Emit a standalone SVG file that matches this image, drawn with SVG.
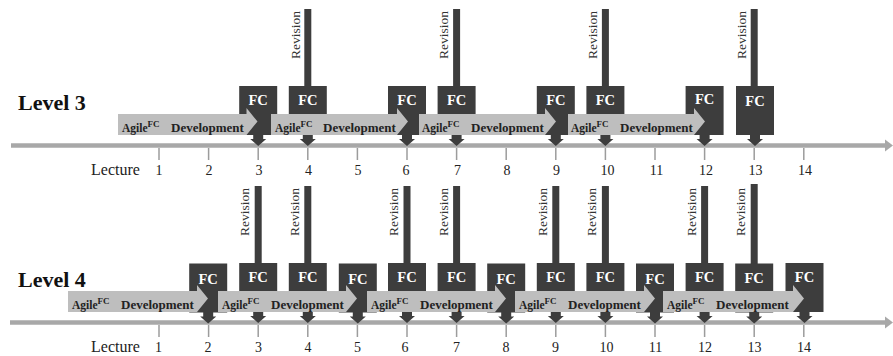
<svg xmlns="http://www.w3.org/2000/svg" width="893" height="356" viewBox="0 0 893 356">
<style>
.bg{fill:#ffffff}
.tl{stroke:#a8a8a8;stroke-width:4.5;fill:none}
.tlh{fill:#a8a8a8}
.tick{stroke:#9c9c9c;stroke-width:1.5}
.dark{fill:#3d3d3d}
.phase{fill:#bebebe}
.lvl{font-family:"Liberation Serif","Times New Roman",serif;font-weight:bold;font-size:22px;fill:#111}
.lec{font-family:"Liberation Serif","Times New Roman",serif;font-size:16px;fill:#222}
.num{font-family:"Liberation Serif","Times New Roman",serif;font-size:14px;fill:#222;text-anchor:middle}
.fct{font-family:"Liberation Serif","Times New Roman",serif;font-weight:bold;font-size:14.5px;fill:#ffffff;text-anchor:middle}
.rev{font-family:"Liberation Serif","Times New Roman",serif;font-size:13.5px;fill:#333}
.ph{font-family:"Liberation Serif","Times New Roman",serif;font-weight:bold;font-size:13px;fill:#222}
.ag{font-size:11.5px}
.sup{font-size:9px}
</style>
<defs>
<path id="fc" d="M-19,0 H19 V49 H5 V53 H8 L0,60 L-8,53 H-5 V49 H-19 Z"/>
</defs>
<rect class="bg" x="0" y="0" width="893" height="356"/>

<g id="connectors">
<line class="tl" x1="11" y1="145.5" x2="887" y2="145.5"/>
<polygon class="tlh" points="885,139.5 893,145.5 885,151.5"/>
<line class="tl" x1="10" y1="322.5" x2="887" y2="322.5"/>
<polygon class="tlh" points="885,316.5 893,322.5 885,328.5"/>
</g>

<g id="ticks-level3">
<line class="tick" x1="159" y1="148" x2="159" y2="160"/>
<line class="tick" x1="208.6" y1="148" x2="208.6" y2="160"/>
<line class="tick" x1="258.2" y1="148" x2="258.2" y2="160"/>
<line class="tick" x1="307.8" y1="148" x2="307.8" y2="160"/>
<line class="tick" x1="357.4" y1="148" x2="357.4" y2="160"/>
<line class="tick" x1="407" y1="148" x2="407" y2="160"/>
<line class="tick" x1="456.6" y1="148" x2="456.6" y2="160"/>
<line class="tick" x1="506.2" y1="148" x2="506.2" y2="160"/>
<line class="tick" x1="555.8" y1="148" x2="555.8" y2="160"/>
<line class="tick" x1="605.4" y1="148" x2="605.4" y2="160"/>
<line class="tick" x1="655" y1="148" x2="655" y2="160"/>
<line class="tick" x1="704.6" y1="148" x2="704.6" y2="160"/>
<line class="tick" x1="754.2" y1="148" x2="754.2" y2="160"/>
<line class="tick" x1="803.8" y1="148" x2="803.8" y2="160"/>
</g>
<g id="ticks-level4">
<line class="tick" x1="159" y1="325" x2="159" y2="337"/>
<line class="tick" x1="208.6" y1="325" x2="208.6" y2="337"/>
<line class="tick" x1="258.2" y1="325" x2="258.2" y2="337"/>
<line class="tick" x1="307.8" y1="325" x2="307.8" y2="337"/>
<line class="tick" x1="357.4" y1="325" x2="357.4" y2="337"/>
<line class="tick" x1="407" y1="325" x2="407" y2="337"/>
<line class="tick" x1="456.6" y1="325" x2="456.6" y2="337"/>
<line class="tick" x1="506.2" y1="325" x2="506.2" y2="337"/>
<line class="tick" x1="555.8" y1="325" x2="555.8" y2="337"/>
<line class="tick" x1="605.4" y1="325" x2="605.4" y2="337"/>
<line class="tick" x1="655" y1="325" x2="655" y2="337"/>
<line class="tick" x1="704.6" y1="325" x2="704.6" y2="337"/>
<line class="tick" x1="754.2" y1="325" x2="754.2" y2="337"/>
<line class="tick" x1="803.8" y1="325" x2="803.8" y2="337"/>
</g>

<g id="labels-level3">
<text class="lvl" x="18" y="110">Level 3</text>
<text class="lec" x="91" y="175">Lecture</text>
<text class="num" x="159" y="175">1</text>
<text class="num" x="209" y="175">2</text>
<text class="num" x="259" y="175">3</text>
<text class="num" x="308.5" y="175">4</text>
<text class="num" x="358" y="175">5</text>
<text class="num" x="406" y="175">6</text>
<text class="num" x="457.5" y="175">7</text>
<text class="num" x="507" y="175">8</text>
<text class="num" x="556.5" y="175">9</text>
<text class="num" x="607.5" y="175">10</text>
<text class="num" x="656.5" y="175">11</text>
<text class="num" x="706" y="175">12</text>
<text class="num" x="755.5" y="175">13</text>
<text class="num" x="805" y="175">14</text>
</g>
<g id="labels-level4">
<text class="lvl" x="18" y="287">Level 4</text>
<text class="lec" x="91" y="352">Lecture</text>
<text class="num" x="158.5" y="352">1</text>
<text class="num" x="208" y="352">2</text>
<text class="num" x="258.5" y="352">3</text>
<text class="num" x="308" y="352">4</text>
<text class="num" x="357.5" y="352">5</text>
<text class="num" x="405" y="352">6</text>
<text class="num" x="456.5" y="352">7</text>
<text class="num" x="506" y="352">8</text>
<text class="num" x="555.5" y="352">9</text>
<text class="num" x="606.5" y="352">10</text>
<text class="num" x="655.5" y="352">11</text>
<text class="num" x="705" y="352">12</text>
<text class="num" x="754.5" y="352">13</text>
<text class="num" x="804" y="352">14</text>
</g>

<g id="l3-fc3"><use href="#fc" class="dark" x="258.2" y="86"/><text class="fct" x="258.2" y="105">FC</text></g>
<g id="l3-fc4"><rect class="dark" x="304.3" y="9" width="7" height="78"/><text class="rev" transform="translate(299.5,59) rotate(-90)">Revision</text><use href="#fc" class="dark" x="307.8" y="86"/><text class="fct" x="307.8" y="105">FC</text></g>
<g id="l3-fc6"><use href="#fc" class="dark" x="407" y="86"/><text class="fct" x="407" y="105">FC</text></g>
<g id="l3-fc7"><rect class="dark" x="453.1" y="9" width="7" height="78"/><text class="rev" transform="translate(448.3,59) rotate(-90)">Revision</text><use href="#fc" class="dark" x="456.6" y="86"/><text class="fct" x="456.6" y="105">FC</text></g>
<g id="l3-fc9"><use href="#fc" class="dark" x="555.8" y="86"/><text class="fct" x="555.8" y="105">FC</text></g>
<g id="l3-fc10"><rect class="dark" x="601.9" y="9" width="7" height="78"/><text class="rev" transform="translate(597.1,59) rotate(-90)">Revision</text><use href="#fc" class="dark" x="605.4" y="86"/><text class="fct" x="605.4" y="105">FC</text></g>
<g id="l3-fc12"><use href="#fc" class="dark" x="704.6" y="86"/><text class="fct" x="704.6" y="104">FC</text></g>
<g id="l3-fc13"><rect class="dark" x="750.7" y="9" width="7" height="78"/><text class="rev" transform="translate(745.9,59) rotate(-90)">Revision</text><use href="#fc" class="dark" x="755" y="86"/><text class="fct" x="755" y="105.5">FC</text></g>

<g id="l4-fc2"><use href="#fc" class="dark" x="208.2" y="263.5"/><text class="fct" x="208.2" y="283.5">FC</text></g>
<g id="l4-fc3"><rect class="dark" x="254.7" y="186" width="7" height="78"/><text class="rev" transform="translate(248.5,236) rotate(-90)">Revision</text><use href="#fc" class="dark" x="258.2" y="263"/><text class="fct" x="258.2" y="282">FC</text></g>
<g id="l4-fc4"><rect class="dark" x="304.3" y="186" width="7" height="78"/><text class="rev" transform="translate(298.5,236) rotate(-90)">Revision</text><use href="#fc" class="dark" x="307.8" y="263"/><text class="fct" x="307.8" y="282">FC</text></g>
<g id="l4-fc5"><use href="#fc" class="dark" x="357.8" y="263.5"/><text class="fct" x="357.8" y="283.5">FC</text></g>
<g id="l4-fc6"><rect class="dark" x="403.5" y="186" width="7" height="78"/><text class="rev" transform="translate(397.5,236) rotate(-90)">Revision</text><use href="#fc" class="dark" x="407" y="263"/><text class="fct" x="407" y="282">FC</text></g>
<g id="l4-fc7"><rect class="dark" x="453.1" y="186" width="7" height="78"/><text class="rev" transform="translate(447.5,236) rotate(-90)">Revision</text><use href="#fc" class="dark" x="456.6" y="263"/><text class="fct" x="456.6" y="282">FC</text></g>
<g id="l4-fc8"><use href="#fc" class="dark" x="506.2" y="263.5"/><text class="fct" x="506.2" y="283.5">FC</text></g>
<g id="l4-fc9"><rect class="dark" x="552.3" y="186" width="7" height="78"/><text class="rev" transform="translate(546.5,236) rotate(-90)">Revision</text><use href="#fc" class="dark" x="555.8" y="263"/><text class="fct" x="555.8" y="282">FC</text></g>
<g id="l4-fc10"><rect class="dark" x="601.9" y="186" width="7" height="78"/><text class="rev" transform="translate(596,236) rotate(-90)">Revision</text><use href="#fc" class="dark" x="605.4" y="263"/><text class="fct" x="605.4" y="282">FC</text></g>
<g id="l4-fc11"><use href="#fc" class="dark" x="655" y="263.5"/><text class="fct" x="655" y="283.5">FC</text></g>
<g id="l4-fc12"><rect class="dark" x="701.1" y="186" width="7" height="78"/><text class="rev" transform="translate(695.5,236) rotate(-90)">Revision</text><use href="#fc" class="dark" x="704.6" y="263"/><text class="fct" x="704.6" y="282">FC</text></g>
<g id="l4-fc13"><rect class="dark" x="750.7" y="184" width="7" height="80"/><text class="rev" transform="translate(745,236) rotate(-90)">Revision</text><use href="#fc" class="dark" x="754.2" y="263.5"/><text class="fct" x="754.2" y="283">FC</text></g>
<g id="l4-fc14"><use href="#fc" class="dark" x="804.5" y="263"/><text class="fct" x="804.5" y="282">FC</text></g>

<g id="l3-phase1"><polygon class="phase" points="118,114 246.5,114 246.5,108 257.5,121.5 246.5,135 118,135"/>
<text class="ph"><tspan class="ag" x="122" y="132">Agile</tspan><tspan class="sup" x="147.5" y="127">FC</tspan><tspan x="171" y="132">Development</tspan></text></g>
<g id="l3-phase2"><polygon class="phase" points="271,114 397,114 397,108 408,121.5 397,135 271,135"/>
<text class="ph"><tspan class="ag" x="275" y="132">Agile</tspan><tspan class="sup" x="300.5" y="127">FC</tspan><tspan x="323" y="132">Development</tspan></text></g>
<g id="l3-phase3"><polygon class="phase" points="419,114 545,114 545,108 556,121.5 545,135 419,135"/>
<text class="ph"><tspan class="ag" x="422" y="132">Agile</tspan><tspan class="sup" x="447.5" y="127">FC</tspan><tspan x="471" y="132">Development</tspan></text></g>
<g id="l3-phase4"><polygon class="phase" points="568,114 694,114 694,108 705,121.5 694,135 568,135"/>
<text class="ph"><tspan class="ag" x="571" y="132">Agile</tspan><tspan class="sup" x="596.5" y="127">FC</tspan><tspan x="620" y="132">Development</tspan></text></g>

<g id="l4-phase1"><polygon class="phase" points="68,291 197,291 197,285 208,298.5 197,312 68,312"/>
<text class="ph"><tspan class="ag" x="72" y="309">Agile</tspan><tspan class="sup" x="97.5" y="304">FC</tspan><tspan x="121" y="309">Development</tspan></text></g>
<g id="l4-phase2"><polygon class="phase" points="218,291 346,291 346,285 357,298.5 346,312 218,312"/>
<text class="ph"><tspan class="ag" x="222" y="309">Agile</tspan><tspan class="sup" x="247.5" y="304">FC</tspan><tspan x="271" y="309">Development</tspan></text></g>
<g id="l4-phase3"><polygon class="phase" points="367,291 495,291 495,285 506,298.5 495,312 367,312"/>
<text class="ph"><tspan class="ag" x="371" y="309">Agile</tspan><tspan class="sup" x="396.5" y="304">FC</tspan><tspan x="420" y="309">Development</tspan></text></g>
<g id="l4-phase4"><polygon class="phase" points="515,291 644,291 644,285 655,298.5 644,312 515,312"/>
<text class="ph"><tspan class="ag" x="519" y="309">Agile</tspan><tspan class="sup" x="544.5" y="304">FC</tspan><tspan x="568" y="309">Development</tspan></text></g>
<g id="l4-phase5"><polygon class="phase" points="663,291 793,291 793,285 804,298.5 793,312 663,312"/>
<text class="ph"><tspan class="ag" x="667" y="309">Agile</tspan><tspan class="sup" x="692.5" y="304">FC</tspan><tspan x="716" y="309">Development</tspan></text></g>
</svg>
